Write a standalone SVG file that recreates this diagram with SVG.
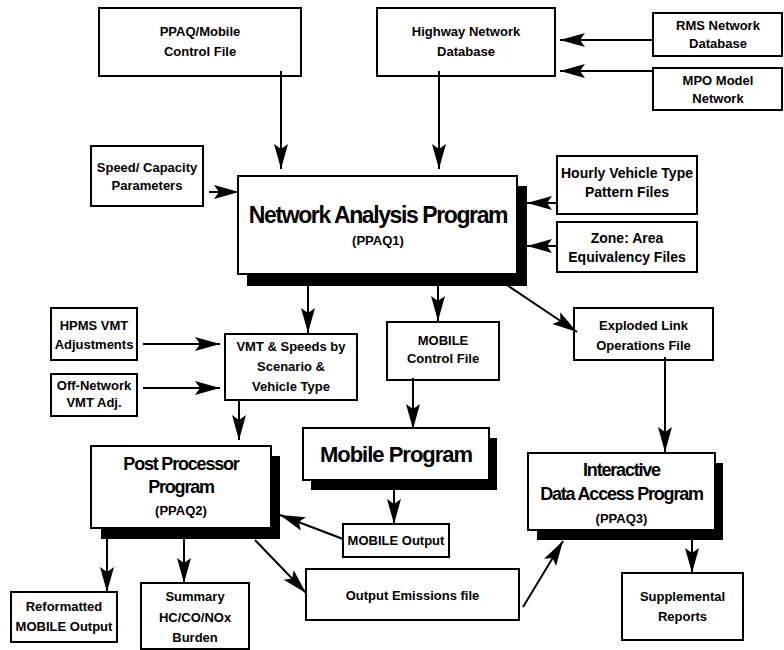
<svg xmlns="http://www.w3.org/2000/svg" width="784" height="650" viewBox="0 0 784 650">
<defs>
<style>
.box{fill:#fff;stroke:#000;stroke-width:2}
.sh{fill:#000}
text{font-family:"Liberation Sans",Arial,Helvetica,sans-serif;font-weight:bold;text-anchor:middle;fill:#000}
.t{font-size:13px}
.t14{font-size:14px}
.big{font-size:23px;letter-spacing:-1.4px}
.mid{font-size:22px;letter-spacing:-1px}
.sub{font-size:18px;letter-spacing:-1.2px}
.c line{stroke:#000;stroke-width:2;marker-end:url(#ah)}
</style>
<marker id="ah" viewBox="-26 -8 27 16" refX="0" refY="0" markerWidth="27" markerHeight="16" markerUnits="userSpaceOnUse" orient="auto">
<path d="M0,0 L-25,-7 L-20,0 L-25,7 Z" fill="#000"/>
</marker>
</defs>
<rect width="784" height="650" fill="#fff"/>

<g id="ppaq_ctrl">
<rect class="box" x="99" y="8" width="202" height="68"/>
<text class="t" x="200" y="36">PPAQ/Mobile</text>
<text class="t" x="200" y="56">Control File</text>
</g>
<g id="highway">
<rect class="box" x="377" y="8" width="178" height="68"/>
<text class="t" x="466" y="36">Highway Network</text>
<text class="t" x="466" y="56">Database</text>
</g>
<g id="rms">
<rect class="box" x="653" y="13" width="129" height="43"/>
<text class="t" x="718" y="30">RMS Network</text>
<text class="t" x="718" y="47.5">Database</text>
</g>
<g id="mpo">
<rect class="box" x="653" y="68" width="129" height="42"/>
<text class="t" x="718" y="84.5">MPO Model</text>
<text class="t" x="718" y="103">Network</text>
</g>
<g id="speed">
<rect class="box" x="91" y="146" width="112" height="60"/>
<text class="t" x="147" y="171.5">Speed/ Capacity</text>
<text class="t" x="147" y="189.5">Parameters</text>
</g>
<g id="nap">
<rect class="sh" x="247" y="186" width="280" height="100"/>
<rect class="box" x="238" y="176" width="279" height="98"/>
<text class="big" x="378" y="222.5">Network Analysis Program</text>
<text class="t" x="378" y="245">(PPAQ1)</text>
</g>
<g id="hourly">
<rect class="box" x="557" y="156" width="140" height="58"/>
<text class="t14" x="627" y="178">Hourly Vehicle Type</text>
<text class="t14" x="627" y="196.5">Pattern Files</text>
</g>
<g id="zone">
<rect class="box" x="557" y="222" width="140" height="50"/>
<text class="t14" x="627" y="243.3">Zone: Area</text>
<text class="t14" x="627" y="261.7">Equivalency Files</text>
</g>
<g id="hpms">
<rect class="box" x="51" y="308" width="86" height="52"/>
<text class="t" x="94" y="329.7">HPMS VMT</text>
<text class="t" x="94" y="349">Adjustments</text>
</g>
<g id="offnet">
<rect class="box" x="51" y="374" width="86" height="42"/>
<text class="t" x="94" y="389.5">Off-Network</text>
<text class="t" x="94" y="407">VMT Adj.</text>
</g>
<g id="vmt">
<rect class="box" x="225" y="334" width="132" height="66"/>
<text class="t" x="291" y="351">VMT &amp; Speeds by</text>
<text class="t" x="291" y="371">Scenario &amp;</text>
<text class="t" x="291" y="391">Vehicle Type</text>
</g>
<g id="mobctrl">
<rect class="box" x="387" y="322" width="112" height="58"/>
<text class="t" x="443" y="344.7">MOBILE</text>
<text class="t" x="443" y="362.7">Control File</text>
</g>
<g id="exploded">
<rect class="box" x="574" y="308" width="139" height="52"/>
<text class="t" x="643.5" y="329.7">Exploded Link</text>
<text class="t" x="643.5" y="349.7">Operations File</text>
</g>
<g id="mobprog">
<rect class="sh" x="311" y="438" width="186" height="52"/>
<rect class="box" x="303" y="428" width="186" height="52"/>
<text class="mid" x="396" y="461.7">Mobile Program</text>
</g>
<g id="post">
<rect class="sh" x="101" y="456" width="179" height="83"/>
<rect class="box" x="91" y="446" width="180" height="82"/>
<text class="sub" x="181" y="469.7">Post Processor</text>
<text class="sub" x="181" y="493">Program</text>
<text class="t" x="181" y="515">(PPAQ2)</text>
</g>
<g id="mobout">
<rect class="box" x="343" y="524" width="106" height="33"/>
<text class="t" x="396" y="545">MOBILE Output</text>
</g>
<g id="interactive">
<rect class="sh" x="537" y="463" width="186" height="77"/>
<rect class="box" x="528" y="453" width="187" height="77"/>
<text class="sub" x="621.5" y="476.4">Interactive</text>
<text class="sub" x="621.5" y="500.4">Data Access Program</text>
<text class="t" x="621.5" y="523">(PPAQ3)</text>
</g>
<g id="reformatted">
<rect class="box" x="11" y="592" width="106" height="50"/>
<text class="t" x="64" y="611">Reformatted</text>
<text class="t" x="64" y="631">MOBILE Output</text>
</g>
<g id="summary">
<rect class="box" x="141" y="583" width="108" height="66"/>
<text class="t" x="195" y="601.4">Summary</text>
<text class="t" x="195" y="622">HC/CO/NOx</text>
<text class="t" x="195" y="642">Burden</text>
</g>
<g id="outemis">
<rect class="box" x="306" y="569" width="213" height="51"/>
<text class="t" x="412.5" y="599.7">Output Emissions file</text>
</g>
<g id="supplemental">
<rect class="box" x="622" y="573" width="121" height="67"/>
<text class="t" x="682.5" y="601.4">Supplemental</text>
<text class="t" x="682.5" y="621.4">Reports</text>
</g>

<g id="connectors" class="c">
<line x1="281" y1="71" x2="281" y2="169"/>
<line x1="439" y1="71" x2="439" y2="169"/>
<line x1="653" y1="40" x2="560" y2="40"/>
<line x1="653" y1="71" x2="560" y2="71"/>
<line x1="209" y1="192" x2="239" y2="192"/>
<line x1="557" y1="203" x2="527" y2="203"/>
<line x1="557" y1="246" x2="527" y2="246"/>
<line x1="308" y1="286" x2="308" y2="333"/>
<line x1="438" y1="286" x2="438" y2="321"/>
<line x1="507" y1="285" x2="577" y2="332"/>
<line x1="143" y1="344" x2="220" y2="344"/>
<line x1="143" y1="388" x2="220" y2="388"/>
<line x1="239" y1="400" x2="239" y2="440"/>
<line x1="413" y1="378" x2="413" y2="429"/>
<line x1="665" y1="357" x2="665" y2="452"/>
<line x1="394" y1="490" x2="394" y2="524"/>
<line x1="343" y1="539" x2="280" y2="515"/>
<line x1="107" y1="539" x2="107" y2="592"/>
<line x1="184" y1="539" x2="184" y2="583"/>
<line x1="255" y1="540" x2="306" y2="593"/>
<line x1="523" y1="607" x2="563" y2="541"/>
<line x1="692" y1="539" x2="692" y2="573"/>
</g>
</svg>
